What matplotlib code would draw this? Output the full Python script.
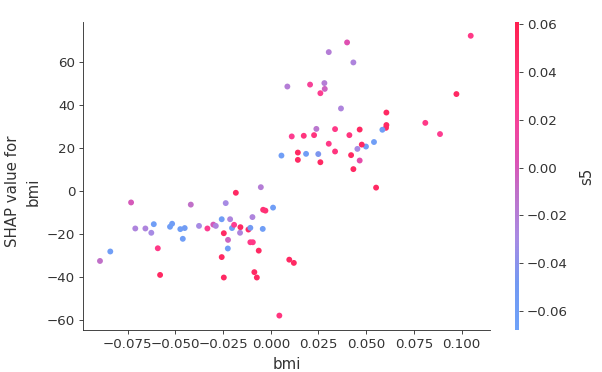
import numpy as np
import matplotlib
matplotlib.use("Agg")
import matplotlib.pyplot as plt
from matplotlib.colors import LinearSegmentedColormap

# bmi feature values
bmi = [0.1048, 0.0400, 0.0304, 0.0433, 0.0087, 0.0206, 0.0281, 0.0283, 0.0260, 0.0368,
       0.0973, 0.0606, 0.0810, 0.0606, 0.0604, 0.0585, 0.0239, 0.0337, 0.0466, 0.0110,
       0.0173, 0.0227, 0.0412, 0.0887, 0.0304, 0.0541, 0.0499, 0.0477, 0.0454, 0.0337,
       0.0142, 0.0142, 0.0056, 0.0185, 0.0249, 0.0421, 0.0260, 0.0466, 0.0433, 0.0552,
       -0.0052, -0.0183, -0.0732, -0.0895, -0.0841, -0.0710, -0.0657, -0.0626, -0.0613, -0.0592,
       -0.0580, -0.0528, -0.0517, -0.0474, -0.0451, -0.0461, -0.0419, -0.0376, -0.0332, -0.0301,
       -0.0288, -0.0257, -0.0236, -0.0213, -0.0203, -0.0192, -0.0246, -0.0224, -0.0225, -0.0257,
       -0.0246, -0.0159, -0.0161, -0.0117, -0.0107, -0.0096, -0.0107, -0.0094, -0.0063, -0.0040,
       -0.0028, -0.0042, 0.0012, -0.0086, -0.0073, 0.0097, 0.0121, 0.0045]

# SHAP values for bmi
shap_bmi = [72.1, 69.0, 64.5, 59.7, 48.5, 49.4, 50.1, 47.4, 45.4, 38.3,
            45.0, 36.4, 31.6, 30.6, 29.3, 28.4, 28.8, 28.7, 28.5, 25.3,
            25.6, 25.9, 25.9, 26.4, 21.9, 22.7, 20.6, 21.5, 19.5, 18.3,
            17.8, 14.4, 16.4, 17.2, 17.1, 16.6, 13.3, 14.1, 10.1, 1.5,
            1.7, -0.9, -5.4, -32.6, -28.2, -17.5, -17.5, -19.5, -15.5, -26.7,
            -39.1, -16.7, -15.3, -17.8, -17.3, -22.3, -6.4, -16.3, -17.5, -15.7,
            -16.3, -13.2, -5.7, -13.2, -17.3, -15.8, -19.7, -22.8, -26.8, -30.8,
            -40.3, -16.9, -19.5, -18.0, -17.2, -12.2, -23.9, -23.9, -27.8, -8.8,
            -9.2, -17.7, -7.8, -37.8, -40.3, -32.0, -33.5, -58.0]

# s5 interaction feature values (colour)
s5 = [0.03, 0.005, -0.02, -0.025, -0.02, 0.02, -0.02, -0.005, 0.025, -0.025,
      0.05, 0.05, 0.03, 0.05, 0.05, -0.06, -0.015, 0.03, 0.05, 0.025,
      0.035, 0.035, 0.035, 0.025, 0.03, -0.06, -0.06, 0.05, -0.03, 0.035,
      0.05, 0.05, -0.06, -0.06, -0.045, 0.05, 0.05, 0.01, 0.05, 0.05,
      -0.02, 0.05, 0.0, -0.01, -0.06, -0.025, -0.025, -0.03, -0.06, 0.03,
      0.05, -0.06, -0.06, -0.06, -0.055, -0.06, -0.01, -0.03, 0.025, 0.0,
      -0.025, -0.06, -0.03, -0.025, -0.06, 0.025, 0.05, -0.005, -0.06, 0.05,
      0.05, 0.05, -0.025, 0.05, -0.05, -0.025, 0.03, 0.03, 0.05, 0.04,
      0.04, -0.06, -0.06, 0.05, 0.05, 0.05, 0.05, 0.035]

xticks = [-0.075, -0.050, -0.025, 0.000, 0.025, 0.050, 0.075, 0.100]
yticks = [-60, -40, -20, 0, 20, 40, 60]
cticks = [-0.06, -0.04, -0.02, 0.00, 0.02, 0.04, 0.06]

cmap = LinearSegmentedColormap.from_list(
    "shapish",
    [(0.0, "#6ea2f9"), (0.15, "#7399f2"), (0.30, "#a98ae3"), (0.45, "#c070c8"),
     (0.55, "#dc52b4"), (0.73, "#ff3c8e"), (1.0, "#ff2050")])

W, H, DPI = 602, 372, 80
fig = plt.figure(figsize=(W / DPI, H / DPI), dpi=DPI)
ax = fig.add_axes([83/W, 42/H, 407/W, 308/H])
cax = fig.add_axes([515/W, 42/H, 4/W, 308/H])

sc = ax.scatter(bmi, shap_bmi, c=s5, cmap=cmap, vmin=-0.068, vmax=0.061,
                s=28, linewidths=0, zorder=3)

ax.set_xlim(-0.0984, 0.1149)
ax.set_ylim(-64.7, 78.5)
ax.set_xticks(xticks)
ax.set_xticklabels([f"{t:.3f}".replace("-", "\u2212") for t in xticks])
ax.set_yticks(yticks)
ax.set_yticklabels([str(t).replace("-", "\u2212") for t in yticks])
ax.tick_params(labelsize=12, color="#333333", labelcolor="#333333")
for side in ["top", "right"]:
    ax.spines[side].set_visible(False)
for side in ["left", "bottom"]:
    ax.spines[side].set_color("#333333")
ax.set_xlabel("bmi", fontsize=13.5, color="#333333", labelpad=5.5)
ax.set_ylabel("SHAP value for\nbmi", fontsize=13.5, color="#333333", linespacing=1.4)
ax.yaxis.set_label_coords(-0.105, 0.45)

cb = fig.colorbar(sc, cax=cax, ticks=cticks)
cb.outline.set_visible(False)
cb.ax.set_yticklabels([f"{t:.2f}".replace("-", "\u2212") for t in cticks])
cb.ax.tick_params(labelsize=12, color="#333333", labelcolor="#333333")
cb.set_label("s5", fontsize=13.5, color="#333333", labelpad=10)

fig.savefig("out.png", dpi=DPI)
